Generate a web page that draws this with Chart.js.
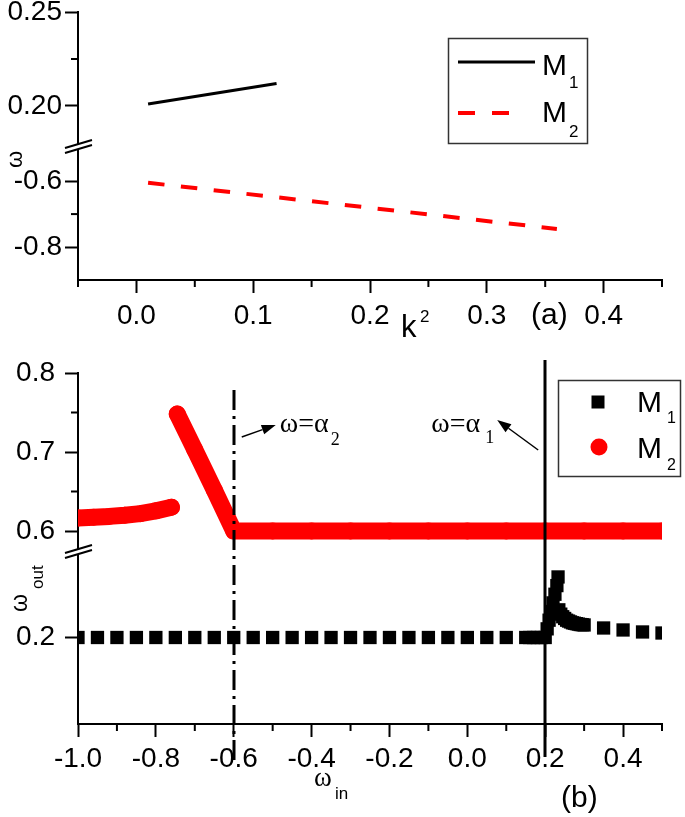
<!DOCTYPE html>
<html>
<head>
<meta charset="utf-8">
<script src="https://cdn.jsdelivr.net/npm/chart.js@4.4.1/dist/chart.umd.min.js"></script>
<style>
  html, body { margin: 0; padding: 0; background: #fff; }
  #wrap { position: relative; width: 685px; height: 817px; }
  canvas { position: absolute; left: 0; }
  #chartA { top: 0; }
  #chartB { top: 340px; }
</style>
</head>
<body>
<div id="wrap">
  <canvas id="chartA" width="685" height="340"></canvas>
  <canvas id="chartB" width="685" height="477"></canvas>
</div>
<script>
// ---- (a) omega vs k^2 ----
const aM1K = [0.01, 0.12];
const aM1W = [0.201, 0.212];
const aM2K = [0.01, 0.36];
const aM2W = [-0.605, -0.745];
const aXTicks = [0.0, 0.1, 0.2, 0.3, 0.4];
const aXMinor = [-0.05, 0.05, 0.15, 0.25, 0.35, 0.45];
const aYTopTicks = [0.20, 0.25];
const aYTopMinor = [0.225];
const aYBotTicks = [-0.8, -0.6];
const aYBotMinor = [-0.7];

// ---- (b) omega_out vs omega_in ----
const bM1In = [-1.0, -0.95, -0.9, -0.85, -0.8, -0.75, -0.7, -0.65, -0.6, -0.55, -0.5, -0.45,
  -0.4, -0.35, -0.3, -0.25, -0.2, -0.15, -0.1, -0.05, 0.0, 0.05, 0.1, 0.15,
  0.16, 0.17, 0.18, 0.19, 0.2,
  0.205, 0.21, 0.215, 0.22, 0.225, 0.23, 0.233,
  0.235, 0.24, 0.245, 0.25, 0.255, 0.26, 0.265, 0.27, 0.275, 0.28, 0.285, 0.29, 0.295, 0.3,
  0.35, 0.4, 0.45, 0.5];
const bM1Out = [0.2, 0.2, 0.2, 0.2, 0.2, 0.2, 0.2, 0.2, 0.2, 0.2, 0.2, 0.2,
  0.2, 0.2, 0.2, 0.2, 0.2, 0.2, 0.2, 0.2, 0.2, 0.2, 0.2, 0.2,
  0.2, 0.2, 0.2, 0.2, 0.2,
  0.21, 0.22, 0.23, 0.24, 0.25, 0.26, 0.27,
  0.232, 0.227, 0.224, 0.222, 0.220, 0.219, 0.218, 0.217, 0.2165, 0.216, 0.2155, 0.215, 0.2148, 0.2145,
  0.211, 0.2087, 0.2064, 0.2052];
const bM2In = [-1.0, -0.96, -0.92, -0.88, -0.84, -0.8, -0.76, -0.755,
  -0.745, -0.7, -0.65, -0.6, -0.5, -0.4, -0.3, -0.2, -0.1, 0.0, 0.1, 0.2, 0.3, 0.4, 0.5];
const bM2Out = [0.6165, 0.6175, 0.6185, 0.620, 0.622, 0.6255, 0.630, null,
  0.748, 0.703, 0.652, 0.6, 0.6, 0.6, 0.6, 0.6, 0.6, 0.6, 0.6, 0.6, 0.6, 0.6, 0.6];
const bXTicks = [-1.0, -0.8, -0.6, -0.4, -0.2, 0.0, 0.2, 0.4];
const bXMinor = [-0.9, -0.7, -0.5, -0.3, -0.1, 0.1, 0.3, 0.5];
const bYTopTicks = [0.6, 0.7, 0.8];
const bYTopMinor = [0.65, 0.75];
const bYBotTicks = [0.2];
const alpha1 = 0.2;
const alpha2 = -0.6;

const seriesNames = ['M', 'M'];
const seriesSubs = ['1', '2'];

const SANS = '"Liberation Sans", Arial, sans-serif';
const SERIF = '"Liberation Serif", "Times New Roman", serif';
Chart.defaults.font.family = SANS;
Chart.defaults.color = '#000';
Chart.defaults.animation = false;

const pts = (xs, ys) => xs.map((x, i) => ({ x: x, y: ys[i] }));

function yAxis(min, max, ticks, weight, digits, pad) {
  return {
    type: 'linear', position: 'left', stack: 'y', stackWeight: weight,
    min: min, max: max,
    afterBuildTicks: s => { s.ticks = ticks.map(v => ({ value: v })); },
    afterFit: s => { s.width = 78; s.paddingTop = 0; s.paddingBottom = 0; },
    ticks: { font: { size: 28 }, color: '#000', padding: pad, autoSkip: false,
      callback: v => v.toFixed(digits) },
    grid: { drawOnChartArea: false, tickLength: 13, tickWidth: 2, tickColor: '#000' },
    border: { color: '#000', width: 2 }
  };
}

function xAxis(min, max, ticks, h, pad) {
  return {
    type: 'linear', position: 'bottom', min: min, max: max,
    afterBuildTicks: s => { s.ticks = ticks.map(v => ({ value: v })); },
    afterFit: s => { s.height = h; s.paddingLeft = 0; s.paddingRight = 0; },
    ticks: { font: { size: 28 }, color: '#000', padding: pad, maxRotation: 0, autoSkip: false,
      callback: v => v.toFixed(1) },
    grid: { drawOnChartArea: false, tickLength: 13, tickWidth: 2, tickColor: '#000' },
    border: { color: '#000', width: 2 }
  };
}

function minorTicks(ctx, s, values, len) {
  ctx.save();
  ctx.strokeStyle = '#000';
  ctx.lineWidth = 2;
  ctx.beginPath();
  values.forEach(v => {
    const p = s.getPixelForValue(v);
    if (s.isHorizontal()) { ctx.moveTo(p, s.top); ctx.lineTo(p, s.top + len); }
    else { ctx.moveTo(s.right, p); ctx.lineTo(s.right - len, p); }
  });
  ctx.stroke();
  ctx.restore();
}

function drawBreak(ctx, x, y) {
  ctx.save();
  ctx.fillStyle = '#fff';
  ctx.beginPath();
  ctx.moveTo(x - 13, y + 2); ctx.lineTo(x + 14, y - 6);
  ctx.lineTo(x + 14, y - 1); ctx.lineTo(x - 13, y + 7);
  ctx.closePath();
  ctx.fill();
  ctx.strokeStyle = '#000';
  ctx.lineWidth = 2;
  ctx.beginPath();
  ctx.moveTo(x - 13, y + 2); ctx.lineTo(x + 14, y - 6);
  ctx.moveTo(x - 13, y + 7); ctx.lineTo(x + 14, y - 1);
  ctx.stroke();
  ctx.restore();
}

function text(ctx, s, x, y, size, family) {
  ctx.save();
  ctx.fillStyle = '#000';
  ctx.font = size + 'px ' + family;
  ctx.textAlign = 'left';
  ctx.textBaseline = 'alphabetic';
  ctx.fillText(s, x, y);
  ctx.restore();
}

function rotText(ctx, parts, x, y) {
  // parts: [string, dx, dy, size, family] drawn in a frame rotated by -90deg
  ctx.save();
  ctx.fillStyle = '#000';
  ctx.translate(x, y);
  ctx.rotate(-Math.PI / 2);
  parts.forEach(p => { ctx.font = p[3] + 'px ' + p[4]; ctx.fillText(p[0], p[1], p[2]); });
  ctx.restore();
}

function arrow(ctx, x0, y0, x1, y1) {
  const a = Math.atan2(y1 - y0, x1 - x0);
  const L = 14, W = 5;
  ctx.save();
  ctx.strokeStyle = '#000';
  ctx.fillStyle = '#000';
  ctx.lineWidth = 1.5;
  ctx.beginPath();
  ctx.moveTo(x0, y0);
  ctx.lineTo(x1 - L * Math.cos(a), y1 - L * Math.sin(a));
  ctx.stroke();
  ctx.beginPath();
  ctx.moveTo(x1, y1);
  ctx.lineTo(x1 - L * Math.cos(a) + W * Math.sin(a), y1 - L * Math.sin(a) - W * Math.cos(a));
  ctx.lineTo(x1 - L * Math.cos(a) - W * Math.sin(a), y1 - L * Math.sin(a) + W * Math.cos(a));
  ctx.closePath();
  ctx.fill();
  ctx.restore();
}

// ---------- chart (a) ----------
const decorA = {
  id: 'decorA',
  afterDraw(chart) {
    const ctx = chart.ctx;
    const x = chart.scales.x, yT = chart.scales.yTop, yB = chart.scales.yBot;
    minorTicks(ctx, x, aXMinor, 7);
    minorTicks(ctx, yT, aYTopMinor, 7);
    minorTicks(ctx, yB, aYBotMinor, 7);
    drawBreak(ctx, yT.right, yT.bottom);

    rotText(ctx, [['ω', 0, 0, 22, SANS]], 22, 168);
    text(ctx, 'k', 401, 337, 31, SANS);
    text(ctx, '2', 420, 322, 17, SANS);
    text(ctx, '(a)', 531, 324, 30, SANS);

    // legend
    const ds = chart.data.datasets;
    ctx.save();
    ctx.strokeStyle = '#333';
    ctx.lineWidth = 1.5;
    ctx.strokeRect(448.5, 38.5, 139, 105);
    [62, 113].forEach((ly, i) => {
      ctx.beginPath();
      ctx.strokeStyle = ds[i].borderColor;
      ctx.lineWidth = ds[i].borderWidth;
      ctx.setLineDash(ds[i].borderDash ? [17, 17] : []);
      ctx.moveTo(458, ly);
      ctx.lineTo(i === 0 ? 535 : 509, ly);
      ctx.stroke();
    });
    ctx.restore();
    text(ctx, seriesNames[0], 542, 75, 30, SANS);
    text(ctx, seriesSubs[0], 569, 88, 17, SANS);
    text(ctx, seriesNames[1], 542, 122, 30, SANS);
    text(ctx, seriesSubs[1], 569, 137, 17, SANS);
  }
};

new Chart(document.getElementById('chartA'), {
  type: 'scatter',
  data: {
    datasets: [
      { data: pts(aM1K, aM1W), yAxisID: 'yTop', showLine: true, borderColor: '#000',
        borderWidth: 3, pointRadius: 0 },
      { data: pts(aM2K, aM2W), yAxisID: 'yBot', showLine: true, borderColor: '#ff0000',
        borderWidth: 4, borderDash: [16.5, 16.5], pointRadius: 0 }
    ]
  },
  options: {
    responsive: false,
    events: [],
    layout: { padding: { left: 0, top: 12, right: 23, bottom: 0 } },
    plugins: { legend: { display: false }, tooltip: { enabled: false } },
    scales: {
      x: xAxis(-0.05, 0.45, aXTicks, 60, 6),
      yBot: yAxis(-0.9, -0.4934, aYBotTicks, 134, 1, 3),
      yTop: yAxis(0.1787, 0.25, aYTopTicks, 134, 2, 3)
    }
  },
  plugins: [decorA]
});

// ---------- chart (b) ----------
const decorB = {
  id: 'decorB',
  afterDatasetsDraw(chart) {
    const ctx = chart.ctx, x = chart.scales.x;
    const xa = Math.round(x.getPixelForValue(alpha2));
    const xb = Math.round(x.getPixelForValue(alpha1));
    ctx.save();
    ctx.strokeStyle = '#000';
    ctx.lineWidth = 3;
    ctx.setLineDash([20, 6, 3, 6]);
    ctx.beginPath(); ctx.moveTo(xa, 50); ctx.lineTo(xa, 420); ctx.stroke();
    ctx.setLineDash([]);
    ctx.beginPath(); ctx.moveTo(xb, 20); ctx.lineTo(xb, 417); ctx.stroke();
    ctx.restore();
  },
  afterDraw(chart) {
    const ctx = chart.ctx;
    const x = chart.scales.x, yT = chart.scales.yTop;
    minorTicks(ctx, x, bXMinor, 7);
    minorTicks(ctx, yT, bYTopMinor, 7);
    drawBreak(ctx, yT.right, yT.bottom);

    const xa = x.getPixelForValue(alpha2), xb = x.getPixelForValue(alpha1);
    arrow(ctx, xa + 8, 97, xa + 42, 85);
    text(ctx, 'ω=α', xa + 46, 92, 28, SERIF);
    text(ctx, '2', xa + 97, 105, 18, SERIF);
    arrow(ctx, xb - 7, 110, xb - 48, 80);
    text(ctx, 'ω=α', xb - 114, 92, 28, SERIF);
    text(ctx, '1', xb - 60, 103, 18, SERIF);

    rotText(ctx, [['ω', 0, 0, 23, SANS], ['out', 23, 16, 17, SANS]], 27, 272);
    text(ctx, 'ω', 314, 446, 27, SERIF);
    text(ctx, 'in', 335, 459, 17, SANS);
    text(ctx, '(b)', 561, 467, 30, SANS);

    // legend
    const ds = chart.data.datasets;
    ctx.save();
    ctx.strokeStyle = '#333';
    ctx.lineWidth = 1.5;
    ctx.strokeRect(558.5, 40.5, 122, 96);
    ctx.fillStyle = ds[0].pointBackgroundColor;
    ctx.fillRect(591.5, 55.5, 13, 13);
    ctx.fillStyle = ds[1].pointBackgroundColor;
    ctx.beginPath(); ctx.arc(599, 107, 8.5, 0, Math.PI * 2); ctx.fill();
    ctx.restore();
    text(ctx, seriesNames[0], 637, 72, 30, SANS);
    text(ctx, seriesSubs[0], 667, 83, 16, SANS);
    text(ctx, seriesNames[1], 637, 118, 30, SANS);
    text(ctx, seriesSubs[1], 667, 130, 16, SANS);
  }
};

new Chart(document.getElementById('chartB'), {
  type: 'scatter',
  data: {
    datasets: [
      { data: pts(bM1In, bM1Out), yAxisID: 'yBot', showLine: false, pointStyle: 'rect',
        pointRadius: 9.4, pointBackgroundColor: '#000', pointBorderWidth: 0, clip: 0 },
      { data: pts(bM2In, bM2Out), yAxisID: 'yTop', showLine: true, spanGaps: false,
        borderColor: '#ff0000', borderWidth: 17, borderCapStyle: 'round', borderJoinStyle: 'round',
        pointRadius: 8.5, pointBackgroundColor: '#ff0000', pointBorderWidth: 0, clip: 0 }
    ]
  },
  options: {
    responsive: false,
    events: [],
    layout: { padding: { left: 0, top: 33, right: 23, bottom: 0 } },
    plugins: { legend: { display: false }, tooltip: { enabled: false } },
    scales: {
      x: xAxis(-1.0, 0.5, bXTicks, 93, 5),
      yBot: yAxis(0.1, 0.3, bYBotTicks, 173, 1, 10),
      yTop: yAxis(0.5747, 0.8, bYTopTicks, 178, 1, 10)
    }
  },
  plugins: [decorB]
});
</script>
</body>
</html>
